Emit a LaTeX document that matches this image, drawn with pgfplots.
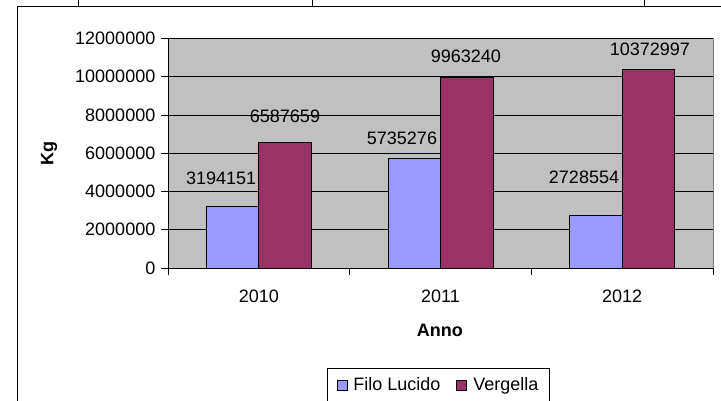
\documentclass[border=0pt]{standalone}
\usepackage{fontspec}
\setmainfont{Liberation Sans}
\usepackage{pgfplots}
\pgfplotsset{compat=1.18}
\definecolor{plotbg}{HTML}{C0C0C0}
\definecolor{frame}{HTML}{808080}
\definecolor{filo}{HTML}{9999FF}
\definecolor{verg}{HTML}{993366}
\pgfplotsset{
  sqleg/.style={legend image code/.code={\draw[##1, line width=0.8bp] (0bp,-5bp) rectangle (10bp,5bp);}},
}
\tikzset{vlab/.style={inner sep=0pt}}

\begin{document}
\fontsize{18bp}{21bp}\selectfont
\begin{tikzpicture}
\useasboundingbox (0bp,0bp) rectangle (721bp,401bp);
% cell borders of the sheet behind the chart
\draw[line width=1bp] (17bp,0bp) -- (17bp,394bp) -- (721bp,394bp);
\foreach \xx in {78,312,644} \draw[line width=1bp] (\xx bp,394bp) -- (\xx bp,401bp);

\begin{axis}[
  at={(168bp,133bp)}, anchor=south west,
  scale only axis, width=545bp, height=229.5bp,
  xmin=-0.5, xmax=2.5, ymin=0, ymax=12000000,
  ybar=0pt, bar width=52.5bp,
  axis x line*=bottom, axis y line*=left,
  axis line style={black, line width=1bp, -},
  axis background/.style={fill=plotbg, draw=frame, line width=1bp},
  ymajorgrids, major grid style={black, line width=0.9bp},
  tick align=outside, major tick length=6.5bp,
  tick style={black, line width=0.9bp},
  xtick={-0.5,0.5,1.5,2.5}, xticklabels={},
  extra x ticks={0,1,2}, extra x tick labels={2010,2011,2012},
  extra x tick style={major tick length=0pt, grid=none,
    xticklabel style={anchor=center, yshift=-28bp}},
  ytick={0,2000000,4000000,6000000,8000000,10000000,12000000},
  scaled y ticks=false,
  yticklabel style={/pgf/number format/fixed, /pgf/number format/1000 sep={}},
  /pgf/number format/assume math mode=true,
  ylabel={\textbf{Kg}}, xlabel={\textbf{Anno}},
  every axis y label/.style={at={(axis description cs:-0.2183,0.501)}, rotate=90, anchor=center},
  every axis x label/.style={at={(axis description cs:0.499,-0.270)}, anchor=center},
  legend columns=2,
  legend style={at={(axis description cs:0.4963,-0.510)}, anchor=center,
    draw=black, line width=1bp, inner xsep=9bp, inner ysep=7bp,
    /tikz/every odd column/.append style={column sep=4bp},
    /tikz/every even column/.append style={column sep=14bp}},
]
\addplot[fill=filo, draw=black, line width=0.9bp, sqleg] coordinates {(0,3194151) (1,5735276) (2,2728554)};
\addlegendentry{Filo Lucido}
\addplot[fill=verg, draw=black, line width=0.9bp, sqleg] coordinates {(0,6587659) (1,9963240) (2,10372997)};
\addlegendentry{Vergella}

\node[vlab] at (axis cs:-0.208,4706000) {3194151};
\node[vlab] at (axis cs:0.144,7948000) {6587659};
\node[vlab] at (axis cs:0.788,6797000) {5735276};
\node[vlab] at (axis cs:1.140,11085000) {9963240};
\node[vlab] at (axis cs:1.790,4758000) {2728554};
\node[vlab] at (axis cs:2.153,11451000) {10372997};
\end{axis}
\end{tikzpicture}
\end{document}
